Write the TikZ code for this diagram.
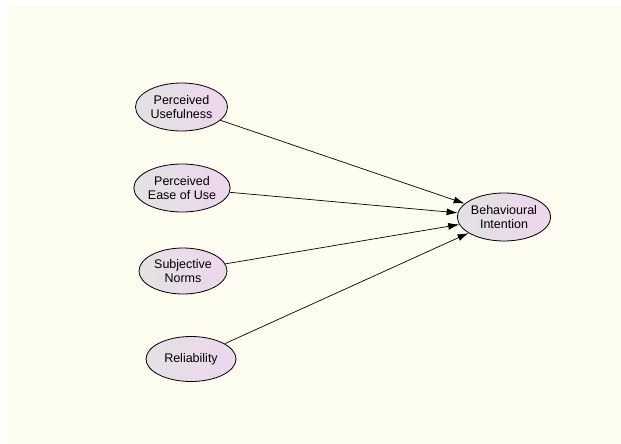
\documentclass[tikz,border=0pt]{standalone}
\usepackage{fontspec}
\setmainfont{Liberation Sans}
\usetikzlibrary{shapes.geometric,arrows.meta,shadings}
\definecolor{bgyellow}{RGB}{253,254,240}
\definecolor{lgrey}{RGB}{226,226,226}
\definecolor{lpink}{RGB}{238,214,238}
\tikzset{
  construct/.style={ellipse, draw=black, line width=0.8pt, left color=lgrey, right color=lpink,
    minimum width=92pt, minimum height=48pt, inner sep=0pt, align=center, font=\fontsize{12.5}{14.5}\selectfont},
  path/.style={draw, line width=0.7pt, -{Latex[length=11pt,width=7pt]}}
}
\begin{document}
\begin{tikzpicture}[x=1pt,y=-1pt]
\useasboundingbox (0,0) rectangle (621,444);
\fill[white] (0,0) rectangle (621,444);
\fill[bgyellow] (8,6) rectangle (621,444);
\node[construct] (pu) at (181.5,107) {Perceived\\Usefulness};
\node[construct] (peu) at (182,188) {Perceived\\Ease of Use};
\node[construct, minimum width=88pt, minimum height=46pt] (sn) at (183,271) {Subjective\\Norms};
\node[construct, minimum width=90pt, minimum height=45pt] (rel) at (191,359) {Reliability};
\node[construct] (bi) at (504,217) {Behavioural\\Intention};
\draw[path] (pu) -- (bi);
\draw[path] (peu) -- (bi);
\draw[path] (sn) -- (bi);
\draw[path] (rel) -- (bi);
\end{tikzpicture}
\end{document}
